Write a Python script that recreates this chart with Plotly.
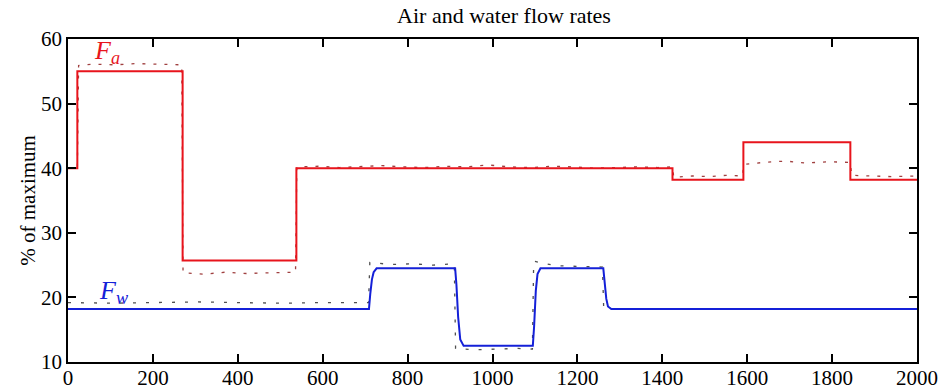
import plotly.graph_objects as go

# Air flow: controlled value (solid) and measured value (dotted)
air_x = [0, 22, 270, 538, 1424, 1591, 1843, 2000]
air_y = [40, 55, 25.7, 40, 38.2, 44, 38.2, 38.2]

air_meas_x = [0, 22, 25, 60, 110, 160, 210, 268, 271, 320, 370, 420, 470, 536,
              539, 590, 640, 690, 740, 790, 840, 890, 940, 990, 1040, 1090, 1140,
              1190, 1240, 1290, 1340, 1390, 1424, 1427, 1470, 1510, 1550, 1589,
              1592, 1640, 1690, 1740, 1790, 1843, 1846, 1890, 1940, 2000]
air_meas_y = [40, 40, 55.9, 56.1, 56.0, 56.2, 56.1, 56.0, 23.8, 23.6, 23.9, 23.7, 23.8, 23.9,
              40.2, 40.3, 40.1, 40.2, 40.4, 40.2, 40.1, 40.3, 40.2, 40.5, 40.2, 40.1, 40.3,
              40.2, 40.0, 40.1, 40.2, 40.1, 40.2, 38.6, 38.8, 38.7, 38.9, 38.8,
              40.6, 40.9, 41.1, 40.8, 41.0, 40.9, 38.9, 38.8, 38.7, 38.8]

# Water flow: controlled value (solid) and measured value (dotted)
water_x = [0, 709, 712, 716, 720, 727, 912, 915, 919, 924, 932, 1095, 1098, 1102,
           1106, 1113, 1261, 1264, 1268, 1272, 1280, 2000]
water_y = [18.2, 18.2, 20.5, 22.8, 23.9, 24.5, 24.5, 22.0, 17.0, 13.5, 12.5, 12.5, 15.5,
           21.0, 23.6, 24.5, 24.5, 22.5, 19.8, 18.6, 18.2, 18.2]

water_meas_x = [0, 100, 200, 300, 400, 500, 600, 708, 711, 760, 810, 860, 910, 913,
                960, 1010, 1060, 1094, 1097, 1150, 1200, 1259, 1262, 2000]
water_meas_y = [19.2, 19.1, 19.2, 19.3, 19.2, 19.1, 19.2, 19.2, 25.4, 25.1, 25.2, 25.0, 25.2,
                12.1, 11.9, 12.0, 12.1, 12.0, 25.6, 24.9, 24.8, 24.7, 18.2, 18.2]

x_ticks = [0, 200, 400, 600, 800, 1000, 1200, 1400, 1600, 1800, 2000]
y_ticks = [10, 20, 30, 40, 50, 60]

SERIF = "Liberation Serif"

fig = go.Figure()
fig.add_trace(go.Scatter(x=air_meas_x, y=air_meas_y, mode="lines",
                         line=dict(color="#a04040", width=1.3, dash="3px,8px")))
fig.add_trace(go.Scatter(x=water_meas_x, y=water_meas_y, mode="lines",
                         line=dict(color="#505050", width=1.3, dash="3px,10px")))
fig.add_trace(go.Scatter(x=air_x, y=air_y, mode="lines", line_shape="hv",
                         line=dict(color="#e8141c", width=2)))
fig.add_trace(go.Scatter(x=water_x, y=water_y, mode="lines",
                         line=dict(color="#1420d8", width=2)))

fig.add_annotation(x=93, y=58.0, text="<i>F<sub>a</sub></i>", showarrow=False,
                   font=dict(family=SERIF, size=26, color="#e8141c"))
fig.add_annotation(x=106, y=20.9, text="<i>F<sub>w</sub></i>", showarrow=False,
                   font=dict(family=SERIF, size=26, color="#1420d8"))

# y-axis title placed by hand to sit just left of the tick labels
fig.add_annotation(xref="paper", yref="paper", x=-0.048, y=0.5, textangle=-90,
                   text="% of maximum", showarrow=False, xanchor="center",
                   font=dict(family=SERIF, size=21, color="black"))

axis_common = dict(showgrid=False, zeroline=False, showline=True, linecolor="black",
                   linewidth=1.5, mirror="allticks", ticks="inside", ticklen=8,
                   tickwidth=1.5, tickcolor="black", automargin=False,
                   tickfont=dict(family=SERIF, size=21, color="black"))

fig.update_layout(
    width=951, height=391,
    margin=dict(l=68, r=34, t=39, b=29),
    paper_bgcolor="white", plot_bgcolor="white",
    showlegend=False,
    title=dict(text="Air and water flow rates", x=0.53, xanchor="center",
               y=0.962, yanchor="middle",
               font=dict(family=SERIF, size=22, color="black")),
    xaxis=dict(range=[0, 2000], tickvals=x_ticks, ticklabelstandoff=-4,
               **axis_common),
    yaxis=dict(range=[10, 60], tickvals=y_ticks, **axis_common),
)

fig.write_html("out.html")
